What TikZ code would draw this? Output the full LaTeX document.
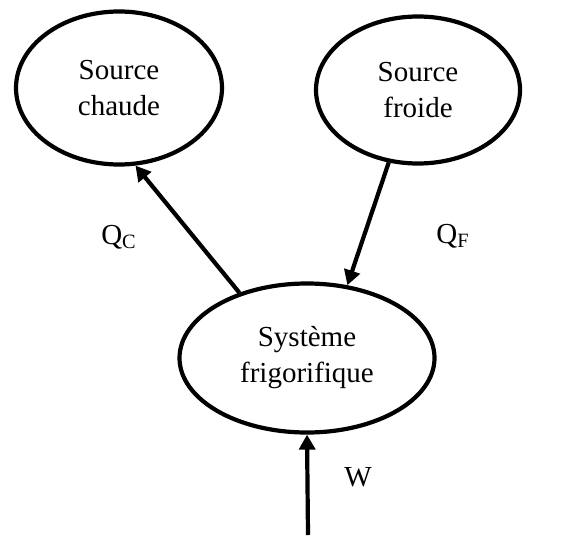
\documentclass[tikz,border=0pt]{standalone}
\usepackage{fontspec}
\setmainfont{Liberation Serif}
\usetikzlibrary{arrows.meta}
\usetikzlibrary{shapes.geometric}

\begin{document}
\begin{tikzpicture}[x=0.5pt,y=-0.5pt,
    reservoir/.style={draw,ellipse,line width=2.1pt,inner sep=0pt,align=center,
      font=\fontsize{14.5}{18}\selectfont},
    flux/.style={-{Triangle[length=7.5pt,width=8pt]},line width=2.1pt},
    lbl/.style={font=\fontsize{14.5}{17}\selectfont}]
  \useasboundingbox (0,0) rectangle (571,535);
  \node[reservoir,minimum width=103pt,minimum height=76.5pt] (chaude) at (119,88) {Source\\chaude};
  \node[reservoir,minimum width=102pt,minimum height=73.5pt] (froide) at (418,90) {Source\\froide};
  \node[reservoir,minimum width=127.5pt,minimum height=74.5pt] (sys) at (307,358) {Système\\frigorifique};
  \coordinate (wpied) at (308,535);
  \draw[flux] (sys.136.7) to (chaude.282);
  \draw[flux] (froide.248.7) to (sys.61.8);
  \draw[flux] (wpied) to (sys.south);
  \node[lbl] (QC) at (119,237) {Q\textsubscript{C}};
  \node[lbl] (QF) at (453,236) {Q\textsubscript{F}};
  \node[lbl] (W) at (358,477) {W};
\end{tikzpicture}
\end{document}
